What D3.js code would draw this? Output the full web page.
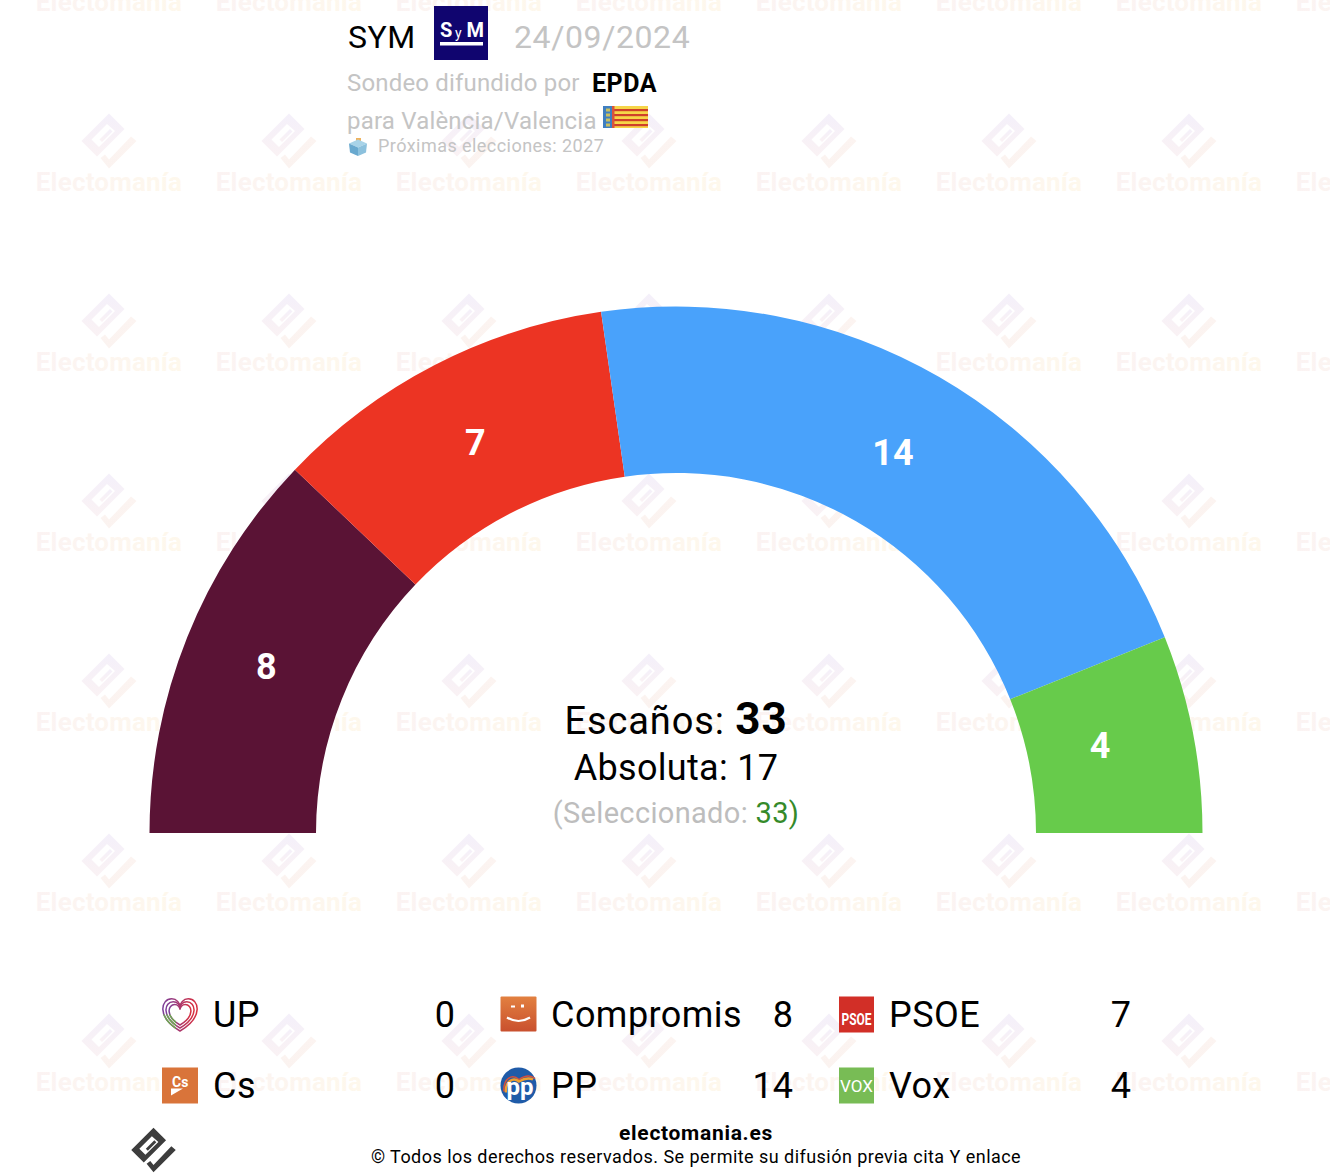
<!DOCTYPE html>
<html>
<head>
<meta charset="utf-8">
<script src="https://cdn.jsdelivr.net/npm/d3@7"></script>
<style>
  html, body { margin: 0; padding: 0; background: #fff; }
  svg { display: block; }
  text { font-family: Roboto, sans-serif; }
</style>
</head>
<body>
<div id="chart"></div>
<script>
// data
var parties = ["UP", "Compromis", "PSOE", "Cs", "PP", "Vox"];
var seats = [0, 8, 7, 0, 14, 4];
var partyColors = ["#7b3f8c", "#5a1335", "#ec3423", "#e07a3c", "#49a2fb", "#67cb4b"];
var totalSeats = 33;
var majority = 17;
var selected = 33;

var svgWidth = 1330;
var svgHeight = 1174;

var svg = d3.select("#chart")
    .append("svg")
    .attr("width", svgWidth)
    .attr("height", svgHeight);

var defs = svg.append("defs");

function addGradient(id, x2, y2, c1, c2) {
    var g = defs.append("linearGradient").attr("id", id)
        .attr("x1", 0).attr("y1", 0).attr("x2", x2).attr("y2", y2);
    g.append("stop").attr("offset", "0%").attr("stop-color", c1);
    g.append("stop").attr("offset", "100%").attr("stop-color", c2);
}
addGradient("wmText", 1, 0, "#fbf3f3", "#fef8ec");
addGradient("wmBody", 0, 1, "#f4f0fa", "#faf2f4");
addGradient("wmCheck", 0, 1, "#fcf4f1", "#fbf3f0");
addGradient("compromisGrad", 0, 1, "#e28040", "#c9502e");
addGradient("heartGrad", 1, 0, "#7d3f99", "#d9303f");

// logo shapes, centred on 0,0
var logoBody = "M0,-27.5L15.5,-12L-12,15.5L-27.5,0Z M-2,-17L-17.5,-1.5L-10,6L6,-10Z";
var logoBar = "M-9.5,-1.5L1,-12L3.5,-9.5L-7,1Z";
var logoCheck = "M-8.5,17L-4,13.5L0,18.5L22,-4.5L27.5,0L0,27.5Z";

function drawLogo(g, body, check) {
    g.append("path").attr("d", logoBody).attr("fill", body).attr("fill-rule", "evenodd");
    g.append("path").attr("d", logoBar).attr("fill", body);
    g.append("path").attr("d", logoCheck).attr("fill", check);
}

// watermark
var wm = svg.append("g").attr("class", "watermark");
d3.range(0, 8).forEach(function(col) {
    d3.range(0, 7).forEach(function(row) {
        var t = wm.append("g").attr("transform", `translate(${109 + col * 180}, ${row * 180 - 39})`);
        if (row > 0) drawLogo(t, "url(#wmBody)", "url(#wmCheck)");
        t.append("text")
            .attr("x", 0).attr("y", 49.5)
            .attr("text-anchor", "middle")
            .attr("font-size", 26)
            .attr("font-weight", 700)
            .attr("letter-spacing", 0.2)
            .attr("fill", "url(#wmText)")
            .text("Electomanía");
    });
});

// header
function addText(x, y, size, fill, str, weight, anchor, spacing) {
    return svg.append("text")
        .attr("x", x).attr("y", y)
        .attr("font-size", size)
        .attr("fill", fill)
        .attr("font-weight", weight || 400)
        .attr("text-anchor", anchor || "start")
        .attr("letter-spacing", spacing || 0)
        .text(str);
}
addText(348, 48, 32, "#000", "SYM", 400, "start", 0.5);
addText(514, 48, 32, "#c4c4c4", "24/09/2024", 400, "start", 0.6);
addText(347, 91, 24, "#c4c4c4", "Sondeo difundido por", 400, "start", 0.17);
addText(592, 92, 25, "#000", "EPDA", 700, "start", 0.5);
addText(347, 129, 24, "#c4c4c4", "para València/Valencia", 400, "start", 0.2);
addText(378, 152, 18, "#c4c4c4", "Próximas elecciones: 2027", 400, "start", 0.45);

// pollster logo
var sym = svg.append("g").attr("transform", "translate(434, 6)");
sym.append("rect").attr("width", 54).attr("height", 54).attr("fill", "#10056f");
sym.append("text").attr("x", 6).attr("y", 31).attr("font-size", 20).attr("font-weight", 700).attr("fill", "#fff").text("S");
sym.append("text").attr("x", 21).attr("y", 32).attr("font-size", 14).attr("fill", "#fff").text("y");
sym.append("text").attr("x", 32.5).attr("y", 31).attr("font-size", 20).attr("font-weight", 700).attr("fill", "#fff").text("M");
sym.append("rect").attr("x", 6).attr("y", 36).attr("width", 43).attr("height", 3.5).attr("fill", "#fff");

// flag
var flag = svg.append("g").attr("transform", "translate(603, 106)");
flag.append("rect").attr("width", 45).attr("height", 22).attr("fill", "#f6d548");
d3.range(0, 4).forEach(function(i) {
    flag.append("rect").attr("x", 10).attr("y", 3 + i * 5).attr("width", 35).attr("height", 2.2).attr("fill", "#cf3f2a");
});
flag.append("rect").attr("x", 0).attr("width", 9).attr("height", 22).attr("fill", "#3f7fc0");
flag.append("rect").attr("x", 9).attr("width", 2.5).attr("height", 22).attr("fill", "#d9543a");
d3.range(0, 4).forEach(function(i) {
    flag.append("rect").attr("x", 3).attr("y", 2.5 + i * 5).attr("width", 4).attr("height", 3).attr("fill", "#c9c060");
});

// ballot box
var box = svg.append("g").attr("transform", "translate(349, 138)");
box.append("rect").attr("x", 7).attr("y", 0).attr("width", 5).attr("height", 6).attr("fill", "#eeb35f");
box.append("path").attr("d", "M0,5.5L9,1.5L18,5.5L9,9.5Z").attr("fill", "#a8d3e8");
box.append("path").attr("d", "M0,5.5L9,9.5L9,18L1,14.5Z").attr("fill", "#69a9cf");
box.append("path").attr("d", "M18,5.5L9,9.5L9,18L17,14.5Z").attr("fill", "#8cc1dd");

// hemicycle
var cx = 676, cy = 833;
var outerRadius = 526.5, innerRadius = 360;

var pie = d3.pie()
    .sort(null)
    .startAngle(-Math.PI / 2)
    .endAngle(Math.PI / 2)
    .value(function(d) { return d.seats; });

var arc = d3.arc().innerRadius(innerRadius).outerRadius(outerRadius);
var labelArc = d3.arc().innerRadius(436).outerRadius(436);
// small shifts to sit the seat numbers where the original has them
var labelShiftX = { Compromis: -5, PSOE: -1, PP: -1, Vox: -4 };
var labelShiftY = { Compromis: -5, PSOE: -3, PP: -3, Vox: -5 };

var tableData = parties.map(function(p, i) {
    return { party: p, seats: seats[i], color: partyColors[i] };
});
var arcData = pie(tableData).filter(function(d) { return d.data.seats > 0; });

var chartGroup = svg.append("g").attr("transform", `translate(${cx}, ${cy})`);

chartGroup.selectAll("path")
    .data(arcData)
    .enter()
    .append("path")
    .attr("d", arc)
    .attr("fill", function(d) { return d.data.color; });

chartGroup.selectAll("text.seat")
    .data(arcData)
    .enter()
    .append("text")
    .attr("class", "seat")
    .attr("x", function(d) { return labelArc.centroid(d)[0] + labelShiftX[d.data.party]; })
    .attr("y", function(d) { return labelArc.centroid(d)[1] + labelShiftY[d.data.party]; })
    .attr("dy", "0.35em")
    .attr("text-anchor", "middle")
    .attr("font-size", 36)
    .attr("font-weight", 700)
    .attr("fill", "#fff")
    .text(function(d) { return d.data.seats; });

// centre text
var esc = addText(cx, 734, 38, "#000", "Escaños: ", 400, "middle", 0.9);
esc.append("tspan").attr("font-size", 44).attr("font-weight", 700).text(totalSeats);
addText(cx, 780, 36, "#000", "Absoluta: " + majority, 400, "middle", 0.3);
var sel = addText(cx, 823, 29, "#bdbdbd", "(Seleccionado: ", 400, "middle", 0.33);
sel.append("tspan").attr("fill", "#358a2a").text(selected + ")");

// legend
var legendX = d3.scaleBand().domain([0, 1, 2]).range([162, 1176]);
var legendY = d3.scaleBand().domain([0, 1]).range([979, 1121]);

var legend = svg.append("g").selectAll("g")
    .data(tableData)
    .enter()
    .append("g")
    .attr("transform", function(d, i) {
        return `translate(${legendX(i % 3)}, ${legendY(Math.floor(i / 3)) + 35.5})`;
    });

legend.append("text")
    .attr("x", 51).attr("y", 12)
    .attr("font-size", 36)
    .attr("letter-spacing", 0.45)
    .attr("fill", "#000")
    .text(function(d) { return d.party; });

legend.append("text")
    .attr("x", 293).attr("y", 12)
    .attr("font-size", 36)
    .attr("text-anchor", "end")
    .attr("fill", "#000")
    .text(function(d) { return d.seats; });

// legend icons
function heartPath(s) {
    var c = 18;
    return `M${c},${c + s}C${c - s * 1.45},${c + s * 0.15} ${c - s * 1.15},${c - s * 0.95} ${c - s * 0.5},${c - s * 0.95}`
        + `C${c - s * 0.2},${c - s * 0.95} ${c},${c - s * 0.7} ${c},${c - s * 0.45}`
        + `C${c},${c - s * 0.7} ${c + s * 0.2},${c - s * 0.95} ${c + s * 0.5},${c - s * 0.95}`
        + `C${c + s * 1.15},${c - s * 0.95} ${c + s * 1.45},${c + s * 0.15} ${c},${c + s}Z`;
}
defs.append("clipPath").attr("id", "heartClip")
    .append("rect").attr("x", 0).attr("y", 18).attr("width", 14).attr("height", 18);

var iconDraw = {
    UP: function(g) {
        [16.5, 13.5, 10.5].forEach(function(s) {
            g.append("path").attr("d", heartPath(s))
                .attr("fill", "none").attr("stroke", "url(#heartGrad)").attr("stroke-width", 1.5);
            g.append("path").attr("d", heartPath(s)).attr("clip-path", "url(#heartClip)")
                .attr("fill", "none").attr("stroke", "#6fa552").attr("stroke-width", 1.5);
        });
    },
    Compromis: function(g) {
        g.append("rect").attr("x", 0.5).attr("width", 36).attr("height", 35).attr("rx", 1).attr("fill", "url(#compromisGrad)");
        g.append("path").attr("d", "M7,21Q18.5,28 30,21").attr("fill", "none").attr("stroke", "#fff").attr("stroke-width", 2.2);
        g.append("rect").attr("x", 11).attr("y", 9).attr("width", 4).attr("height", 2).attr("fill", "#fff");
        g.append("rect").attr("x", 21).attr("y", 8).attr("width", 3).attr("height", 3).attr("fill", "#fff");
    },
    PSOE: function(g) {
        g.append("rect").attr("x", 1).attr("width", 35).attr("height", 36).attr("fill", "#d22f27");
        g.append("text").attr("x", 18.5).attr("y", 28).attr("text-anchor", "middle").attr("font-size", 16).attr("font-weight", 700).attr("fill", "#fff").attr("textLength", 30).attr("lengthAdjust", "spacingAndGlyphs").text("PSOE");
    },
    Cs: function(g) {
        g.append("rect").attr("width", 36).attr("height", 36).attr("fill", "#d9743a");
        g.append("text").attr("x", 10).attr("y", 19).attr("font-size", 14).attr("font-weight", 700).attr("fill", "#fff").text("Cs");
        g.append("path").attr("d", "M9,21L21,21L9,28Z").attr("fill", "#fff");
    },
    PP: function(g) {
        g.append("circle").attr("cx", 18.5).attr("cy", 18).attr("r", 18).attr("fill", "#1f5ba8");
        g.append("path").attr("d", "M4,24C3,11 12,6 19,12C25,8 30,7 35,11").attr("fill", "none").attr("stroke", "#d9503a").attr("stroke-width", 1.5);
        g.append("path").attr("d", "M6,25C5,14 13,9 19,14C24,11 29,10 33,12").attr("fill", "none").attr("stroke", "#f0a030").attr("stroke-width", 2.5);
        g.append("text").attr("x", 20).attr("y", 27).attr("text-anchor", "middle").attr("font-size", 24).attr("font-weight", 700).attr("fill", "#fff").text("pp");
    },
    Vox: function(g) {
        g.append("rect").attr("x", 1).attr("width", 35).attr("height", 36).attr("fill", "#78bc55");
        g.append("text").attr("x", 18.5).attr("y", 24).attr("text-anchor", "middle").attr("font-size", 17).attr("fill", "#fff").attr("textLength", 33).attr("lengthAdjust", "spacingAndGlyphs").text("VOX");
    }
};

legend.append("g")
    .attr("transform", "translate(0, -18)")
    .each(function(d) { iconDraw[d.party](d3.select(this)); });

// footer
addText(696, 1140, 21, "#000", "electomania.es", 700, "middle", 0.7);
addText(696, 1163, 18, "#000", "© Todos los derechos reservados. Se permite su difusión previa cita Y enlace", 400, "middle", 0.46);

var footLogo = svg.append("g").attr("transform", "translate(153.5, 1150) scale(0.81)");
drawLogo(footLogo, "#3d3d3d", "#3d3d3d");
</script>
</body>
</html>
